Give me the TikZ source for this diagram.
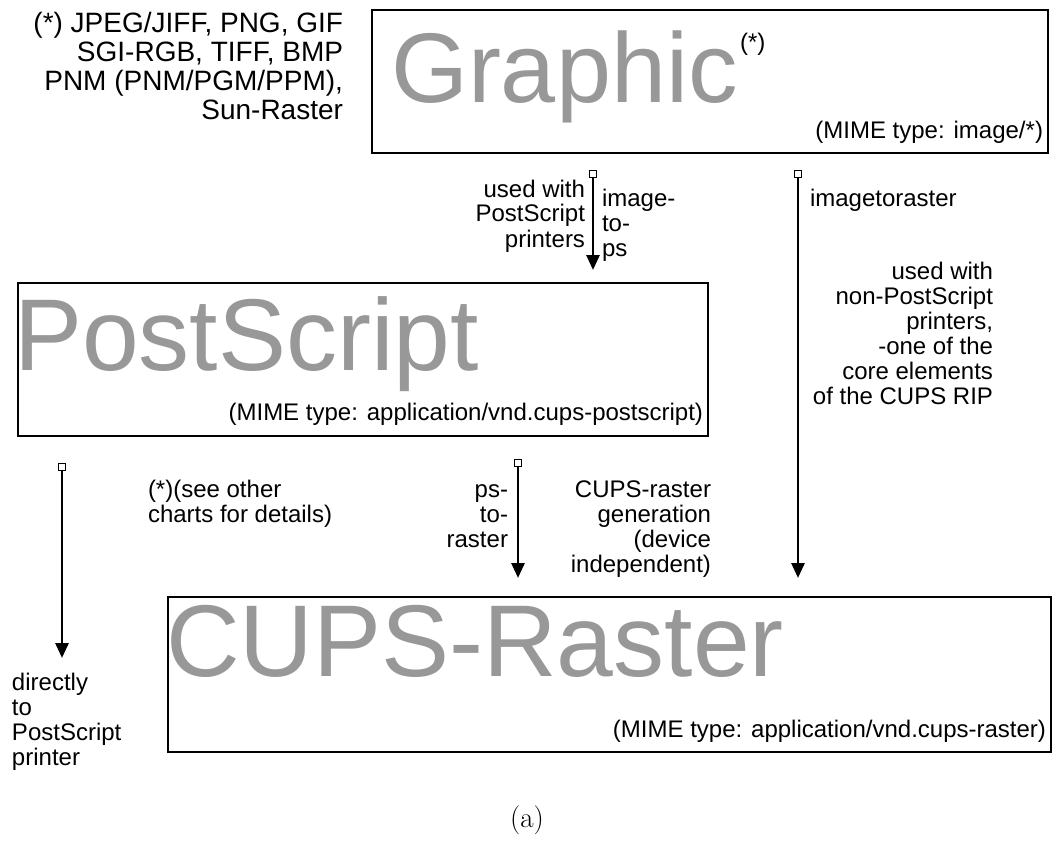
\documentclass[tikz,border=0pt]{standalone}
\usepackage{fontspec}
\setsansfont{Liberation Sans}
\usetikzlibrary{arrows.meta}
\definecolor{biggray}{RGB}{152,152,152}
\begin{document}
\begin{tikzpicture}[x=1pt,y=-1pt,
  every node/.style={inner sep=0pt, outer sep=0pt},
  box/.style={draw, line width=2.4pt},
  big/.style={text=biggray, font=\sffamily\fontsize{102}{102}\selectfont},
  small/.style={font=\sffamily\fontsize{24}{25}\selectfont},
  note/.style={font=\sffamily\fontsize{28}{29}\selectfont},
  src/.style={draw, line width=1.8pt, minimum size=7pt, fill=white},
  flow/.style={line width=2.8pt, -{Triangle[length=15pt,width=13pt]}},
]
\useasboundingbox (0,0) rectangle (1054,845);

% boxes
\node[box, minimum width=676pt, minimum height=143pt] (graphic) at (710,81.5) {};
\node[box, minimum width=690pt, minimum height=153pt] (ps) at (363,359.5) {};
\node[box, minimum width=883pt, minimum height=155pt] (raster) at (609.5,674.5) {};

% big titles
\node[big, font=\sffamily\fontsize{99}{99}\selectfont, anchor=base west] (graphicT) at (391,103) {Graphic};
\node[small, anchor=north west] (graphicS) at (740,33) {(*)};
\node[big, anchor=base west] (psT) at (14,370) {PostScript};
\node[big, anchor=base west] (rasterT) at (166,676) {CUPS-Raster};

% MIME labels
\node[small, anchor=base east] (graphicM) at (1043,139) {(MIME type: image/*)};
\node[small, anchor=base east] (psM) at (703,420) {(MIME type: application/vnd.cups-postscript)};
\node[small, anchor=base east] (rasterM) at (1046,737) {(MIME type: application/vnd.cups-raster)};

% formats note (base = last line)
\node[note, anchor=base east, align=right] (formats) at (343,120) {(*) JPEG/JIFF, PNG, GIF\\SGI-RGB, TIFF, BMP\\PNM (PNM/PGM/PPM),\\Sun-Raster};

% arrows
\node[src] (s1) at (593,174) {};
\coordinate (e1) at (593,270);
\draw[flow] (s1) -- (e1);
\node[src] (s2) at (798,174) {};
\coordinate (e2) at (798,578);
\draw[flow] (s2) -- (e2);
\node[src] (s3) at (62,467) {};
\coordinate (e3) at (62,658);
\draw[flow] (s3) -- (e3);
\node[src] (s4) at (518,463) {};
\coordinate (e4) at (518,578);
\draw[flow] (s4) -- (e4);

% arrow labels (base = last line)
\node[small, anchor=base east, align=right] (l1a) at (585,247) {used with\\PostScript\\printers};
\node[small, anchor=base west, align=left] (l1b) at (602,256) {image-\\to-\\ps};
\node[small, anchor=base west] (l2a) at (810,206) {imagetoraster};
\node[small, anchor=base east, align=right] (l2b) at (993,404) {used with\\non-PostScript\\printers,\\-one of the\\core elements\\of the CUPS RIP};
\node[small, anchor=base west, align=left] (l3) at (12,765) {directly\\to\\PostScript\\printer};
\node[small, anchor=base west, align=left] (l4a) at (148,522) {(*)(see other\\charts for details)};
\node[small, anchor=base east, align=right] (l4b) at (508,547) {ps-\\to-\\raster};
\node[small, anchor=base east, align=right] (l4c) at (711,572) {CUPS-raster\\generation\\(device\\independent)};

% caption
\node[font=\fontsize{29}{29}\selectfont] (cap) at (527,820) {(a)};
\end{tikzpicture}
\end{document}
